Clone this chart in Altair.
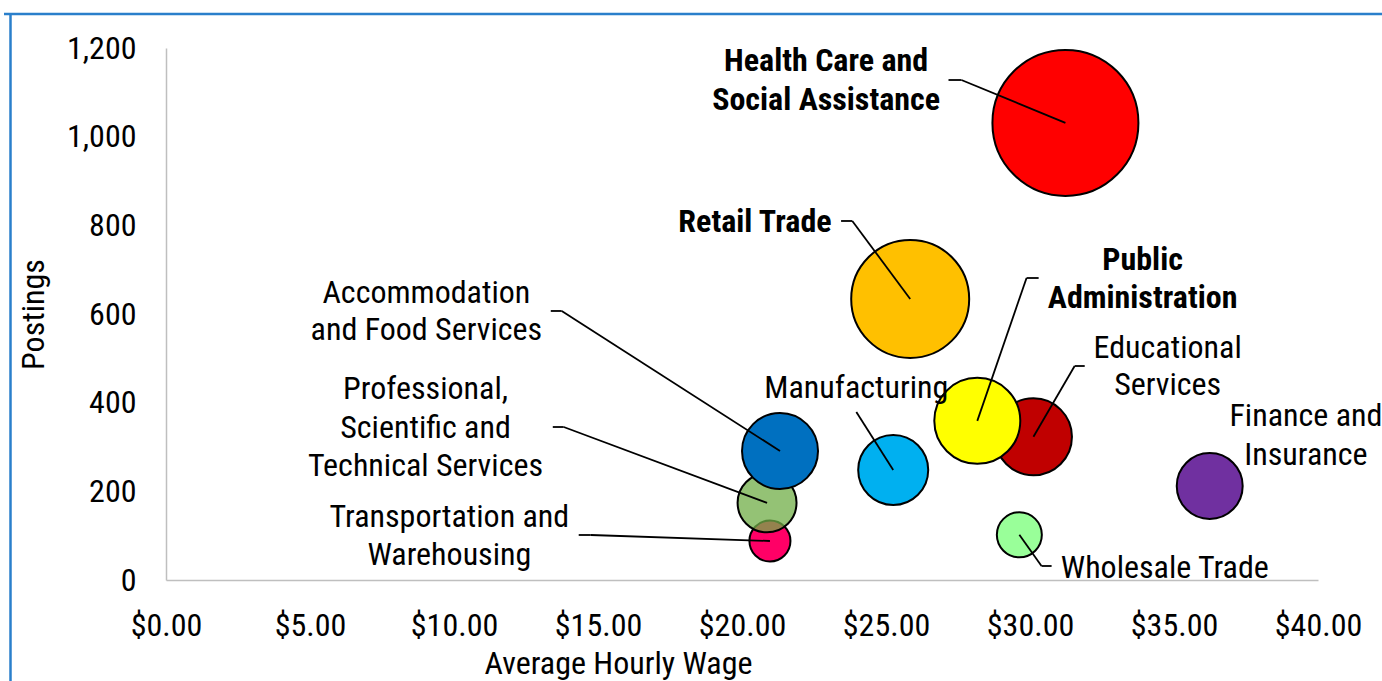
import altair as alt
import pandas as pd

FONT = "Roboto Condensed, Liberation Sans Narrow, Roboto"

# ---- data (drawing order: back to front) ----
industries = [
    "Transportation and Warehousing",
    "Professional, Scientific and Technical Services",
    "Accommodation and Food Services",
    "Manufacturing",
    "Educational Services",
    "Public Administration",
    "Wholesale Trade",
    "Finance and Insurance",
    "Retail Trade",
    "Health Care and Social Assistance",
]
avg_wage = [20.97, 20.87, 21.32, 25.25, 30.12, 28.17, 29.63, 36.24, 25.84, 31.23]
postings = [88, 174, 291, 248, 323, 359, 102, 212, 634, 1031]
bubble_size = [7.9, 16.3, 27.1, 23.0, 27.8, 34.7, 9.5, 20.4, 65.3, 100]
fill_colors = ["#FF0066", "#70AD47", "#0070C0", "#00B0F0", "#C00000",
               "#FFFF00", "#99FF99", "#7030A0", "#FFC000", "#FF0000"]
fill_opacity = [1, 0.75, 1, 1, 1, 1, 1, 1, 1, 1]

x_ticks = [0, 5, 10, 15, 20, 25, 30, 35, 40]
y_ticks = [0, 200, 400, 600, 800, 1000, 1200]

# ---- label annotations (industry, line text, wage-position, postings-position, bold) ----
label_industry = [
    "Health Care and Social Assistance", "Health Care and Social Assistance",
    "Retail Trade",
    "Public Administration", "Public Administration",
    "Educational Services", "Educational Services",
    "Finance and Insurance", "Finance and Insurance",
    "Manufacturing",
    "Accommodation and Food Services", "Accommodation and Food Services",
    "Professional, Scientific and Technical Services",
    "Professional, Scientific and Technical Services",
    "Professional, Scientific and Technical Services",
    "Transportation and Warehousing", "Transportation and Warehousing",
    "Wholesale Trade",
]
label_text = [
    "Health Care and", "Social Assistance",
    "Retail Trade",
    "Public", "Administration",
    "Educational", "Services",
    "Finance and", "Insurance",
    "Manufacturing",
    "Accommodation", "and Food Services",
    "Professional,", "Scientific and", "Technical Services",
    "Transportation and", "Warehousing",
    "Wholesale Trade",
]
label_x = [22.92, 22.92, 20.45, 33.91, 33.91, 34.78, 34.78, 39.58, 39.58, 23.97,
           9.04, 9.04, 9.01, 9.01, 9.01, 9.84, 9.84, 34.68]
label_y = [1170.7, 1082.7, 807.5, 721.8, 636.1, 523.3, 439.8, 369.9, 282.0, 433.1,
           647.4, 563.9, 430.8, 342.9, 257.1, 142.1, 56.4, 27.1]
label_bold = [True, True, True, True, True, False, False, False, False, False,
              False, False, False, False, False, False, False, False]

# ---- leader lines: label-side point and elbow, bubble end taken from the data ----
leader_industry = ["Health Care and Social Assistance", "Retail Trade", "Public Administration",
                   "Educational Services", "Accommodation and Food Services",
                   "Professional, Scientific and Technical Services",
                   "Transportation and Warehousing", "Manufacturing", "Wholesale Trade"]
leader_start_x = [27.17, 23.44, 30.30, 31.90, 13.36, 13.43, 14.33, 23.97, 30.75]
leader_start_y = [1127.8, 809.8, 681.2, 482.7, 606.8, 345.1, 101.5, 379.0, 31.6]
leader_elbow_x = [27.62, 23.83, 29.88, 31.55, 13.74, 13.81, 14.75, 23.97, 30.40]
leader_elbow_y = [1127.8, 809.8, 681.2, 482.7, 606.8, 345.1, 101.5, 379.0, 31.6]

# ---- tables ----
df = pd.DataFrame({
    "Industry": industries,
    "Wage": avg_wage,
    "Postings": postings,
    "Size": bubble_size,
    "Fill": fill_colors,
    "Opacity": fill_opacity,
    "Rank": list(range(len(industries))),
})

lbl = pd.DataFrame({"Industry": label_industry, "Text": label_text,
                    "X": label_x, "Y": label_y, "Bold": label_bold})

centers = dict(zip(industries, zip(avg_wage, postings)))
seg_rows = []
for ind, sx, sy, ex, ey in zip(leader_industry, leader_start_x, leader_start_y,
                               leader_elbow_x, leader_elbow_y):
    cx, cy = centers[ind]
    if (sx, sy) != (ex, ey):
        seg_rows.append({"x": sx, "y": sy, "x2": ex, "y2": ey})
    seg_rows.append({"x": ex, "y": ey, "x2": cx, "y2": cy})
seg = pd.DataFrame(seg_rows)

xscale = alt.Scale(domain=[0, 40], nice=False, zero=True)
yscale = alt.Scale(domain=[0, 1200], nice=False, zero=True)

x_axis = alt.Axis(
    values=x_ticks, format="$.2f", title="Average Hourly Wage",
    ticks=False, grid=False, domainColor="#BFBFBF", domainWidth=1.5,
    labelFont=FONT, labelFontSize=32, labelColor="black", labelPadding=30,
    labelFlush=False, labelOverlap=False,
    titleFont=FONT, titleFontSize=32, titleFontWeight="normal", titleColor="black",
    titleX=452, titleY=83, titleAlign="center", titleBaseline="middle",
)
y_axis = alt.Axis(
    values=y_ticks, format=",d", title="Postings",
    ticks=False, grid=False, domainColor="#BFBFBF", domainWidth=1.5,
    labelFont=FONT, labelFontSize=32, labelColor="black", labelPadding=30,
    labelFlush=False, labelOverlap=False,
    titleFont=FONT, titleFontSize=32, titleFontWeight="normal", titleColor="black",
    titleX=-133, titleY=266, titleAngle=270, titleAlign="center", titleBaseline="middle",
)

bubbles = alt.Chart(df).mark_circle(stroke="black", strokeWidth=2, opacity=1).encode(
    x=alt.X("Wage:Q", scale=xscale, axis=x_axis),
    y=alt.Y("Postings:Q", scale=yscale, axis=y_axis),
    size=alt.Size("Size:Q", scale=alt.Scale(domain=[0, 100], range=[0, 21316]), legend=None),
    color=alt.Color("Fill:N", scale=None),
    fillOpacity=alt.FillOpacity("Opacity:Q", scale=None),
    order=alt.Order("Rank:Q"),
)

leaders = alt.Chart(seg).mark_rule(color="black", strokeWidth=1.8).encode(
    x=alt.X("x:Q", scale=xscale), y=alt.Y("y:Q", scale=yscale),
    x2="x2:Q", y2="y2:Q",
)

labels_bold = alt.Chart(lbl).transform_filter("datum.Bold").mark_text(
    font=FONT, fontSize=32, fontWeight="bold", color="black",
    align="center", baseline="middle",
).encode(x=alt.X("X:Q", scale=xscale), y=alt.Y("Y:Q", scale=yscale), text="Text:N")

labels_reg = alt.Chart(lbl).transform_filter("!datum.Bold").mark_text(
    font=FONT, fontSize=32, color="black",
    align="center", baseline="middle",
).encode(x=alt.X("X:Q", scale=xscale), y=alt.Y("Y:Q", scale=yscale), text="Text:N")

dummy = pd.DataFrame({"k": [0]})
frame_top = alt.Chart(dummy).mark_rule(color="#2A7FCB", strokeWidth=2.5).encode(
    x=alt.value(-162), x2=alt.value(1216), y=alt.value(-34)
)
frame_left = alt.Chart(dummy).mark_rule(color="#2A7FCB", strokeWidth=2.5).encode(
    x=alt.value(-155.5), y=alt.value(-34), y2=alt.value(640)
)

chart = alt.layer(
    frame_top, frame_left, bubbles, leaders, labels_reg, labels_bold
).properties(
    width=1152, height=532,
    autosize=alt.AutoSizeParams(type="none"),
    padding={"left": 166, "top": 48, "right": 64, "bottom": 101},
    background="white",
).configure_view(strokeWidth=0)

chart.save("out.html", embed_options={"renderer": "svg", "actions": False})
